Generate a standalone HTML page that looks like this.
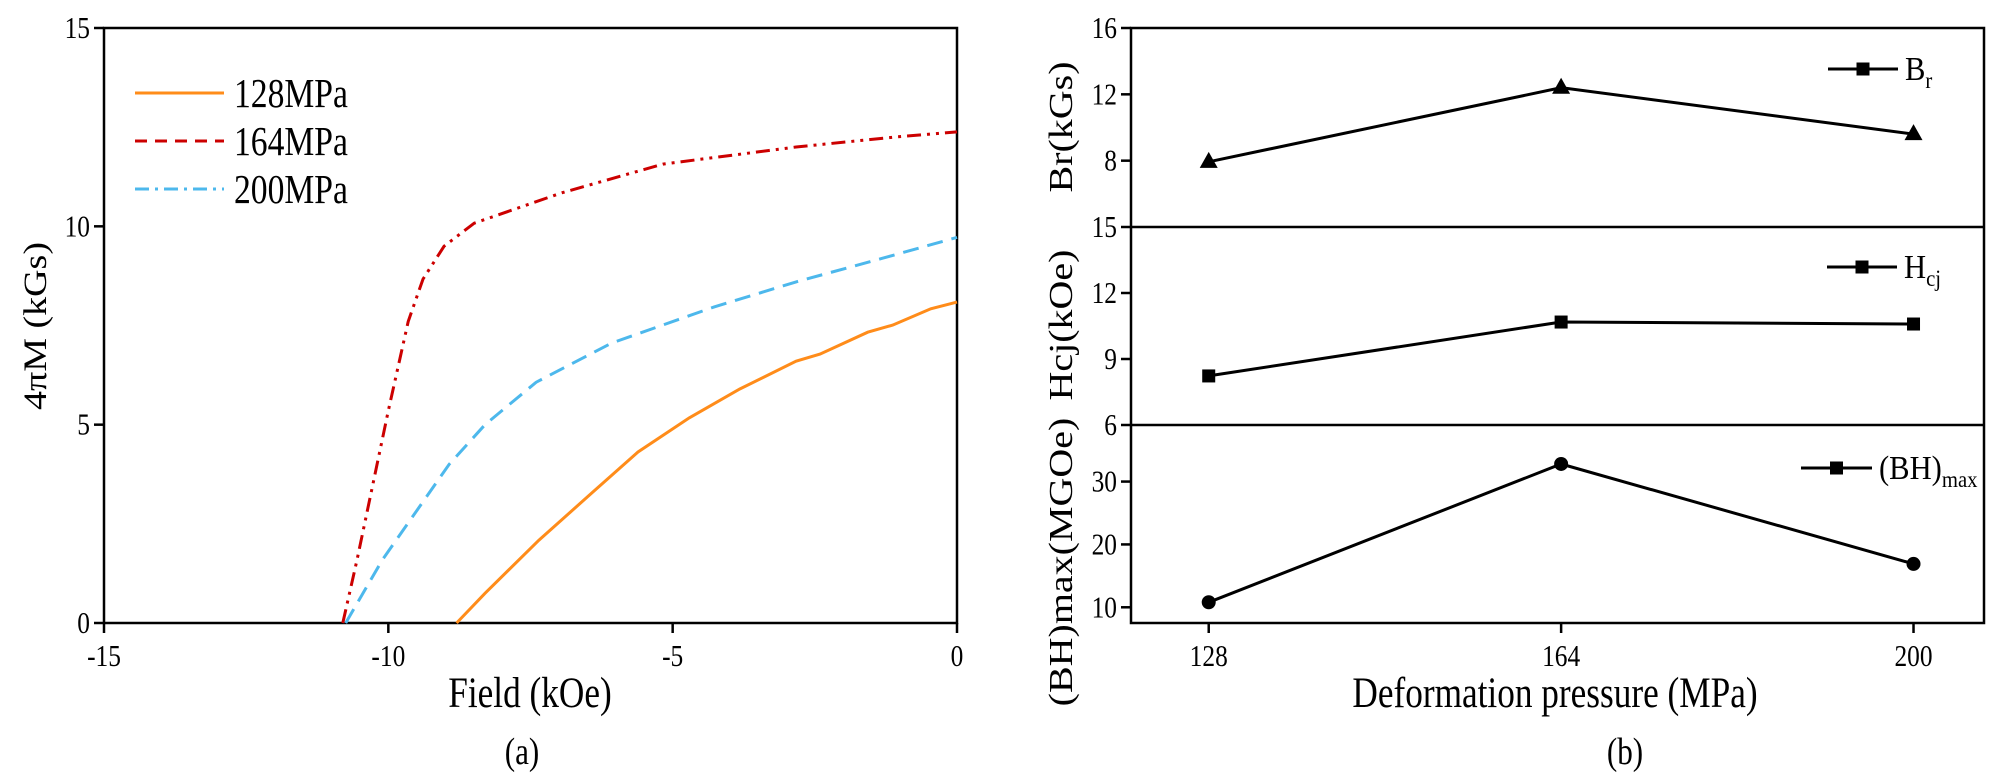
<!DOCTYPE html>
<html><head><meta charset="utf-8">
<style>
html,body{margin:0;padding:0;background:#fff;}
svg{display:block;font-family:"Liberation Serif","Times New Roman",serif;}
</style></head>
<body>
<svg id="fig" width="2000" height="784" viewBox="0 0 2000 784" xmlns="http://www.w3.org/2000/svg">
<g id="left"></g>
<g id="right"></g>
</svg>
<script>
// ---------- Panel (a) data ----------
const x128 = [-8.8, -8.3, -7.35, -6.42, -5.61, -4.71, -3.82, -2.83, -2.41, -1.57, -1.13, -0.46, 0];
const y128 = [0, 0.75, 2.09, 3.28, 4.31, 5.17, 5.9, 6.6, 6.78, 7.33, 7.51, 7.92, 8.09];
const x164 = [-10.8, -10.55, -10.0, -9.65, -9.39, -9.02, -8.49, -6.96, -5.17, -2.83, -1.1, 0];
const y164 = [0, 1.6, 5.35, 7.6, 8.67, 9.5, 10.08, 10.84, 11.57, 12.0, 12.25, 12.38];
const x200 = [-10.75, -10.1, -8.93, -8.3, -7.4, -6.07, -4.27, -2.83, -1.3, 0];
const y200 = [0, 1.6, 4.0, 5.0, 6.07, 7.06, 7.97, 8.6, 9.2, 9.72];
const aXTicks = [-15, -10, -5, 0];
const aYTicks = [0, 5, 10, 15];
const aLegend = ["128MPa", "164MPa", "200MPa"];

// ---------- Panel (b) data ----------
const pressures = [128, 164, 200];
const brVals = [7.93, 12.4, 9.6];
const hcjVals = [8.23, 10.68, 10.59];
const bhVals = [10.8, 32.8, 16.9];
const brTicks = [8, 12, 16];
const hcjTicks = [6, 9, 12, 15];
const bhTicks = [10, 20, 30];

const NS = "http://www.w3.org/2000/svg";
const SX = 0.82;
function mk(parent, tag, attrs, text) {
  const e = document.createElementNS(NS, tag);
  for (const k in attrs) e.setAttribute(k, attrs[k]);
  if (text !== undefined) e.textContent = text;
  parent.appendChild(e);
  return e;
}
function txt(parent, x, y, size, anchor, str, rot) {
  const tr = `translate(${x},${y})` + (rot ? ` rotate(${rot})` : "") + ` scale(${SX},1)`;
  return mk(parent, "text", {x: 0, y: 0, "font-size": size, "text-anchor": anchor, transform: tr}, str);
}

// ---------- Panel (a) ----------
const L = document.getElementById("left");
const aL = 104, aR = 957, aT = 28, aB = 623;
const ax = v => aL + (v + 15) / 15 * (aR - aL);
const ay = v => aB - v / 15 * (aB - aT);

let r = mk(L, "rect", {x: aL, y: aT, width: aR - aL, height: aB - aT, fill: "none", stroke: "#000", "stroke-width": 2.5});



aXTicks.forEach(t => {
  const l = mk(L, "line", {x1: ax(t), x2: ax(t), y1: aB, y2: aB + 10, stroke: "#000", "stroke-width": 2.5});
  
  
  const tx = txt(L, ax(t), aB + 43, 31, "middle", String(t));
  
  
});
aYTicks.forEach(t => {
  const l = mk(L, "line", {x1: aL - 10, x2: aL, y1: ay(t), y2: ay(t), stroke: "#000", "stroke-width": 2.5});
  
  
  const tx = txt(L, aL - 14, ay(t) + 10, 31, "end", String(t));
  
  
});

function pathD(xs, ys, fx, fy) {
  return xs.map((v, i) => (i ? "L" : "M") + fx(v).toFixed(1) + "," + fy(ys[i]).toFixed(1)).join(" ");
}
const series = [
  {xs: x128, ys: y128, color: "#ff8c1a", dash: "none", name: "curve-128mpa", legDash: "none"},
  {xs: x164, ys: y164, color: "#cc0000", dash: "14,6,3,6,3,6", name: "curve-164mpa", legDash: "12,8"},
  {xs: x200, ys: y200, color: "#4db8ec", dash: "16,9", name: "curve-200mpa", legDash: "14,6,3,6"}
];
series.forEach((s, i) => {
  const p = mk(L, "path", {d: pathD(s.xs, s.ys, ax, ay), fill: "none", stroke: s.color, "stroke-width": 3, "stroke-dasharray": s.dash});
  
  
  const ly = 93 + i * 48;
  const ll = mk(L, "line", {x1: 135, x2: 224, y1: ly, y2: ly, stroke: s.color, "stroke-width": 3, "stroke-dasharray": s.legDash});
  
  
  const lt = txt(L, 234, ly + 14, 41, "start", aLegend[i]);
  
  
});

let t = txt(L, 530, 707, 43, "middle", "Field (kOe)");


t = mk(L, "text", {x: 0, y: 0, "font-size": 38, "text-anchor": "middle", transform: "translate(46,326) rotate(-90) scale(1,0.85)"}, "4πM (kGs)");


t = txt(L, 522, 764, 38, "middle", "(a)");



// ---------- Panel (b) ----------
const R = document.getElementById("right");
const bL = 1131, bR = 1984, bT = 28, bB = 623;
const d1 = 227, d2 = 425;
const bx = v => bL + (v - 120.06) / (207.2 - 120.06) * (bR - bL);
const yBr = v => bT + (16 - v) / 12 * (d1 - bT);
const yHcj = v => d1 + (15 - v) / 9 * (d2 - d1);
const yBh = v => d2 + (39 - v) / 31.5 * (bB - d2);

r = mk(R, "rect", {x: bL, y: bT, width: bR - bL, height: bB - bT, fill: "none", stroke: "#000", "stroke-width": 2.5});


[d1, d2].forEach(d => {
  const l = mk(R, "line", {x1: bL, x2: bR, y1: d, y2: d, stroke: "#000", "stroke-width": 2.5});
  
  
});

function yTicks(ticks, fy) {
  ticks.forEach(v => {
    const l = mk(R, "line", {x1: bL - 10, x2: bL, y1: fy(v), y2: fy(v), stroke: "#000", "stroke-width": 2.5});
    
    
    const tx = txt(R, bL - 14, fy(v) + 10, 31, "end", String(v));
    
    
  });
}
yTicks(brTicks, yBr); yTicks(hcjTicks, yHcj); yTicks(bhTicks, yBh);

pressures.forEach(p => {
  const l = mk(R, "line", {x1: bx(p), x2: bx(p), y1: bB, y2: bB + 10, stroke: "#000", "stroke-width": 2.5});
  
  
  const tx = txt(R, bx(p), bB + 43, 31, "middle", String(p));
  
  
});

function marker(x, y, kind) {
  let m;
  if (kind === "tri") m = mk(R, "polygon", {points: `${x},${y - 10} ${x - 9},${y + 6} ${x + 9},${y + 6}`, fill: "#000"});
  else if (kind === "sq") m = mk(R, "rect", {x: x - 6.5, y: y - 6.5, width: 13, height: 13, fill: "#000"});
  else m = mk(R, "circle", {cx: x, cy: y, r: 7, fill: "#000"});
  return m;
}
function drawSeries(vals, fy, kind, name) {
  const p = mk(R, "path", {d: pathD(pressures, vals, bx, fy), fill: "none", stroke: "#000", "stroke-width": 3});
  
  
  vals.forEach((v, i) => {
    const m = marker(bx(pressures[i]), fy(v), kind);
    
    
  });
}
drawSeries(brVals, yBr, "tri", "br");
drawSeries(hcjVals, yHcj, "sq", "hcj");
drawSeries(bhVals, yBh, "circ", "bhmax");

function legend(x1, x2, y, main, sub, name) {
  const l = mk(R, "line", {x1: x1, x2: x2, y1: y, y2: y, stroke: "#000", "stroke-width": 3});
  
  
  const m = marker((x1 + x2) / 2, y, "sq");
  
  
  const tx = mk(R, "text", {x: 0, y: 0, "font-size": 34, transform: `translate(${x2 + 7},${y + 11}) scale(0.9,1)`});
  
  
  mk(tx, "tspan", {}, main);
  mk(tx, "tspan", {"font-size": 23, dy: 8}, sub);
}
legend(1828, 1898, 69, "B", "r", "br");
legend(1827, 1897, 267, "H", "cj", "hcj");
legend(1801, 1872, 468, "(BH)", "max", "bhmax");

function ylab(x, y, s, name) {
  const tx = mk(R, "text", {x: 0, y: 0, "font-size": 40, "text-anchor": "middle", transform: `translate(${x},${y}) rotate(-90) scale(1,0.85)`}, s);
  
  
}
ylab(1072, 127, "Br(kGs)", "y-axis-title-br");
ylab(1072, 325, "Hcj(kOe)", "y-axis-title-hcj");
ylab(1072, 562, "(BH)max(MGOe)", "y-axis-title-bhmax");

t = txt(R, 1555, 707, 43, "middle", "Deformation pressure (MPa)");


t = txt(R, 1625, 764, 38, "middle", "(b)");


</script>
</body></html>
